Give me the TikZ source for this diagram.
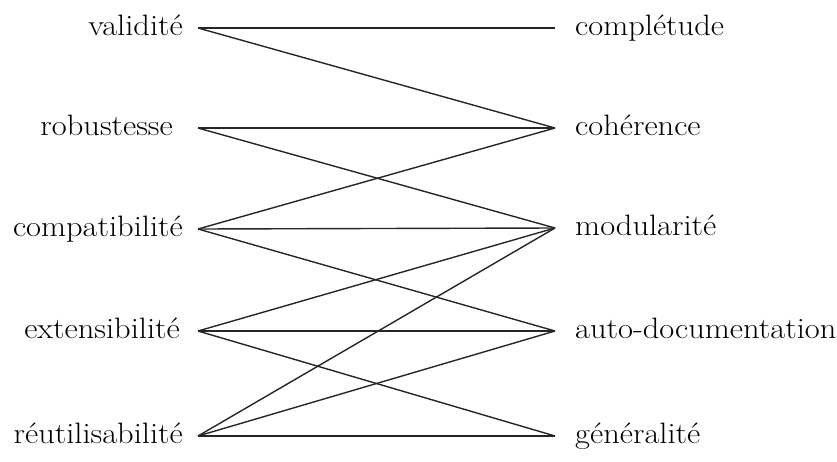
\documentclass[tikz,border=0pt]{standalone}
\usepackage{fontspec}
\setmainfont{Latin Modern Roman}[FakeStretch=1.1]
\usetikzlibrary{positioning}

\begin{document}
\begin{tikzpicture}[x=1pt, y=-1pt,
  facteur/.style={anchor=east, inner xsep=15pt, inner ysep=0pt, text height=20pt, text depth=6pt, font=\fontsize{29.5}{32}\selectfont},
  critere/.style={anchor=west, inner xsep=20pt, inner ysep=0pt, text height=20pt, text depth=6pt, font=\fontsize{29.5}{32}\selectfont},
  lien/.style={line width=1.4pt, black!85}]
  \useasboundingbox (0,0) rectangle (837,461);

  % Facteurs (left)
  \node[facteur] (valid) at (198,28) {validité};
  \node[facteur, inner xsep=25pt] (robust) at (198,128) {robustesse};
  \node[facteur] (compat) at (198,229) {compatibilité};
  \node[facteur, inner xsep=18pt] (extens) at (198,331) {extensibilité};
  \node[facteur] (reutil) at (198,436) {réutilisabilité};

  % Criteres (right)
  \node[critere] (complet) at (555,28) {complétude};
  \node[critere] (coher) at (555,128) {cohérence};
  \node[critere] (modul) at (555,228) {modularité};
  \node[critere] (autodoc) at (555,331) {auto-documentation};
  \node[critere] (general) at (555,436) {généralité};

  % Links
  \draw[lien] (valid.east) -- (complet.west);
  \draw[lien] (valid.east) -- (coher.west);
  \draw[lien] (robust.east) -- (coher.west);
  \draw[lien] (robust.east) -- (modul.west);
  \draw[lien] (compat.east) -- (coher.west);
  \draw[lien] (compat.east) -- (modul.west);
  \draw[lien] (compat.east) -- (autodoc.west);
  \draw[lien] (extens.east) -- (modul.west);
  \draw[lien] (extens.east) -- (autodoc.west);
  \draw[lien] (extens.east) -- (general.west);
  \draw[lien] (reutil.east) -- (modul.west);
  \draw[lien] (reutil.east) -- (autodoc.west);
  \draw[lien] (reutil.east) -- (general.west);
\end{tikzpicture}
\end{document}
